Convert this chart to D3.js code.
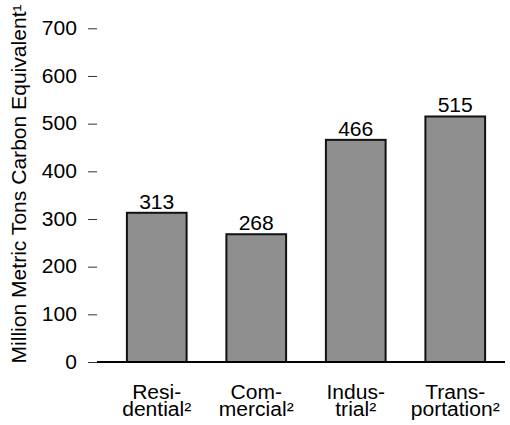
<!DOCTYPE html>
<html><head><meta charset="utf-8">
<script src="https://cdn.jsdelivr.net/npm/d3@7"></script>
<style>body{margin:0;background:#fff}svg{display:block}text{font-family:"Liberation Sans",Arial,sans-serif;fill:#000}</style>
</head><body>
<script>
const categories = ["Residential", "Commercial", "Industrial", "Transportation"];
const labelLine1 = ["Resi-", "Com-", "Indus-", "Trans-"];
const labelLine2 = ["dential²", "mercial²", "trial²", "portation²"];
const values = [313, 268, 466, 515];
const yTicks = [0, 100, 200, 300, 400, 500, 600, 700];
const yTitle = "Million Metric Tons Carbon Equivalent¹";

const W = 510, H = 425;
const FONT = "19.5px";
const STRETCH = 1.08;
const svg = d3.select("body").append("svg").attr("width", W).attr("height", H);

function stretch(sel) {
  sel.each(function () {
    const L = this.getComputedTextLength();
    this.setAttribute("textLength", (L * STRETCH).toFixed(1));
    this.setAttribute("lengthAdjust", "spacingAndGlyphs");
  });
}

const y = d3.scaleLinear().domain([0, 700]).range([362, 28.3]);
const x = d3.scaleBand().domain(categories).range([107, 505]).paddingInner(0.4).paddingOuter(0.2);

// y ticks
const yAxis = d3.axisLeft(y).tickValues(yTicks).tickSize(9).tickPadding(11);
const gy = svg.append("g").attr("transform", "translate(97,0)").call(yAxis);
gy.select(".domain").remove();
gy.selectAll(".tick line").attr("stroke", "#333").attr("stroke-width", 1);
gy.selectAll(".tick text").style("font-size", FONT).style("font-family", '"Liberation Sans",Arial,sans-serif').attr("fill", "#000");
stretch(gy.selectAll(".tick text"));

// bars
svg.selectAll("rect.bar").data(values).join("rect")
  .attr("class", "bar")
  .attr("x", (d, i) => x(categories[i]))
  .attr("width", x.bandwidth())
  .attr("y", d => y(d))
  .attr("height", d => y(0) - y(d))
  .attr("fill", "#8f8f8f")
  .attr("stroke", "#111")
  .attr("stroke-width", 2);

// baseline
svg.append("line").attr("x1", 97).attr("x2", 505).attr("y1", y(0)).attr("y2", y(0))
  .attr("stroke", "#000").attr("stroke-width", 2);

// value labels
const vals = svg.selectAll("text.val").data(values).join("text")
  .attr("class", "val")
  .attr("x", (d, i) => x(categories[i]) + x.bandwidth() / 2)
  .attr("y", d => y(d) - 4)
  .attr("text-anchor", "middle")
  .style("font-size", FONT)
  .text(d => d);
stretch(vals);

// category labels
const l1 = svg.selectAll("text.cat1").data(categories).join("text")
  .attr("class", "cat1")
  .attr("x", c => x(c) + x.bandwidth() / 2)
  .attr("y", 399)
  .attr("text-anchor", "middle")
  .style("font-size", FONT)
  .text((c, i) => labelLine1[i]);
stretch(l1);
const l2 = svg.selectAll("text.cat2").data(categories).join("text")
  .attr("class", "cat2")
  .attr("x", c => x(c) + x.bandwidth() / 2)
  .attr("y", 416)
  .attr("text-anchor", "middle")
  .style("font-size", FONT)
  .text((c, i) => labelLine2[i]);
stretch(l2);

// y title
const yt = svg.append("text")
  .attr("transform", "translate(26,184) rotate(-90)")
  .attr("text-anchor", "middle")
  .style("font-size", FONT)
  .text(yTitle);
stretch(yt);
</script>
</body></html>
